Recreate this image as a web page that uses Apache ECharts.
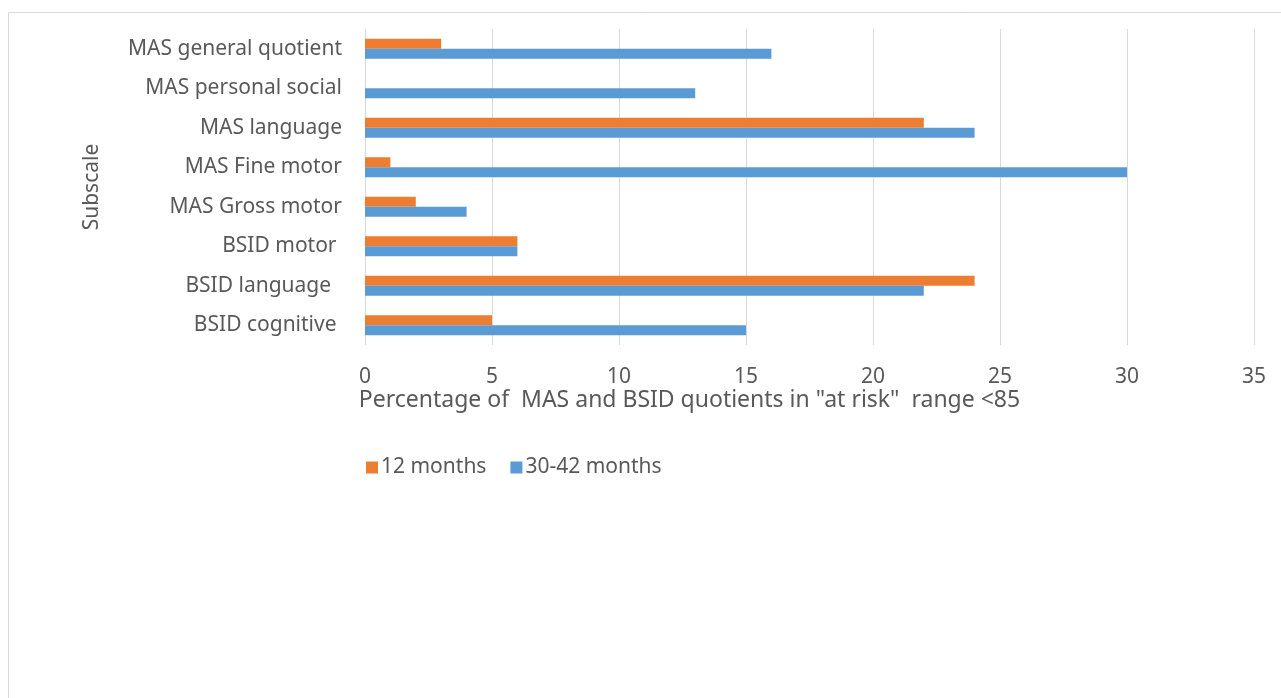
<!DOCTYPE html>
<html>
<head>
<meta charset="utf-8">
<script src="https://cdn.jsdelivr.net/npm/echarts@6/dist/echarts.min.js"></script>
<style>
  html, body { margin: 0; padding: 0; background: #fff; }
  #chart { width: 1281px; height: 698px; }
</style>
</head>
<body>
<div id="chart"></div>
<script>
// Subscales, listed top to bottom
const subscales = [
  'MAS general quotient',
  'MAS personal social',
  'MAS language',
  'MAS Fine motor',
  'MAS Gross motor',
  'BSID motor ',
  'BSID language  ',
  'BSID cognitive '
];
// Percentage of quotients in the "at risk" range (<85)
const months12 = [3, 0, 22, 1, 2, 6, 24, 5];
const months30to42 = [16, 13, 24, 30, 4, 6, 22, 15];
const xTicks = { min: 0, max: 35, interval: 5 };

const textColor = '#595959';
const fontFamily = '"Noto Sans", "Open Sans", sans-serif';
const fontSize = 21;

const chart = echarts.init(document.getElementById('chart'));
chart.setOption({
  animation: false,
  textStyle: { fontFamily: fontFamily, color: textColor },
  graphic: [{
    type: 'rect',
    shape: { x: 8.5, y: 12.5, width: 1400, height: 800 },
    style: { fill: 'none', stroke: '#D9D9D9', lineWidth: 1 },
    silent: true
  }],
  grid: { left: 365, right: 27, top: 29, bottom: 353, containLabel: false },
  legend: {
    left: 361,
    top: 452,
    itemWidth: 12,
    itemHeight: 12,
    itemGap: 24,
    icon: 'rect',
    textStyle: { fontSize: fontSize, color: textColor, fontFamily: fontFamily, padding: [0, 0, 0, -2] },
    data: ['12 months', '30-42 months']
  },
  xAxis: {
    type: 'value',
    min: xTicks.min,
    max: xTicks.max,
    interval: xTicks.interval,
    name: 'Percentage of  MAS and BSID quotients in "at risk"  range <85',
    nameLocation: 'middle',
    nameGap: 53,
    nameTextStyle: {
      fontSize: 23, color: textColor, fontFamily: fontFamily,
      align: 'center', verticalAlign: 'middle', padding: [0, 240, 0, 0]
    },
    axisLine: { show: false },
    axisTick: { show: false },
    axisLabel: { fontSize: fontSize, color: textColor, margin: 22 },
    splitLine: { lineStyle: { color: '#D9D9D9', width: 1 } }
  },
  yAxis: {
    type: 'category',
    inverse: true,
    data: subscales,
    name: 'Subscale',
    nameLocation: 'middle',
    nameGap: 262,
    nameRotate: 90,
    nameTextStyle: { fontSize: fontSize, color: textColor, fontFamily: fontFamily },
    axisLine: { show: false },
    axisTick: { show: false },
    axisLabel: { fontSize: fontSize, color: textColor, margin: 23 }
  },
  series: [
    {
      name: '12 months',
      type: 'bar',
      data: months12,
      barWidth: 10,
      barGap: '0%',
      itemStyle: { color: '#ED7D31' }
    },
    {
      name: '30-42 months',
      type: 'bar',
      data: months30to42,
      barWidth: 10,
      barGap: '0%',
      itemStyle: { color: '#5B9BD5' }
    }
  ]
});
</script>
</body>
</html>
